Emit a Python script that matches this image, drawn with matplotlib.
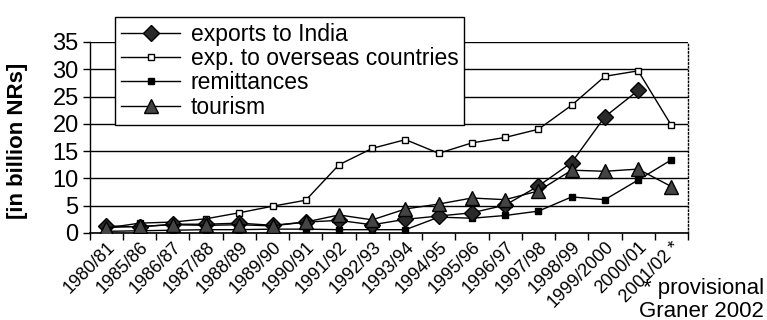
import numpy as np
import matplotlib
matplotlib.use('Agg')
import matplotlib.pyplot as plt
from matplotlib import font_manager

plt.rcParams['font.family'] = ['Liberation Sans', 'DejaVu Sans']

years = ['1980/81', '1985/86', '1986/87', '1987/88', '1988/89', '1989/90',
         '1990/91', '1991/92', '1992/93', '1993/94', '1994/95', '1995/96',
         '1996/97', '1997/98', '1998/99', '1999/2000', '2000/01', '2001/02 *']

exports_india = [1.3, 1.1, 1.6, 1.6, 1.8, 1.4, 2.0, 2.3, 1.5, 2.5, 3.1, 3.7,
                 5.1, 8.6, 12.9, 21.3, 26.1, np.nan]
exports_overseas = [0.9, 1.8, 2.0, 2.6, 3.7, 4.9, 6.0, 12.5, 15.5, 17.1, 14.6,
                    16.5, 17.5, 19.0, 23.4, 28.7, 29.7, 19.7]
remittances = [0.3, 0.4, 0.5, 0.6, 0.6, 0.7, 0.7, 0.6, 0.6, 0.6, 2.9, 2.7,
               3.2, 4.0, 6.6, 6.1, 9.7, 13.4]
tourism = [1.0, 1.2, 1.5, 1.4, 1.5, 1.3, 2.0, 3.3, 2.4, 4.4, 5.3, 6.4, 6.1,
           7.7, 11.5, 11.3, 11.7, 8.5]

# narrow face for the source note, if installed
names = {f.name for f in font_manager.fontManager.ttflist}
if 'Liberation Sans Narrow' in names:
    note_font, note_size = 'Liberation Sans Narrow', 18
else:
    note_font, note_size = 'Liberation Sans', 16

fig = plt.figure(figsize=(7.67, 3.2), dpi=100)
ax = fig.add_axes([0.117, 0.272, 0.78, 0.597])

x = np.arange(len(years))
ax.plot(x, exports_india, color='black', lw=1, marker='D', ms=8.5,
        mfc='#2a2a2a', mec='black', label='exports to India', zorder=4)
ax.plot(x, exports_overseas, color='black', lw=1, marker='s', ms=4,
        mfc='white', mec='black', mew=1, label='exp. to overseas countries', zorder=3)
ax.plot(x, remittances, color='black', lw=1, marker='s', ms=4,
        mfc='black', mec='black', label='remittances', zorder=3)
ax.plot(x, tourism, color='black', lw=1, marker='^', ms=10.5,
        mfc='#444444', mec='black', label='tourism', zorder=4)

ax.set_xlim(-0.5, len(years) - 0.5)
ax.set_ylim(0, 35)
ax.set_yticks(range(0, 36, 5))
ax.yaxis.grid(True, color='black', lw=1)
ax.set_axisbelow(True)

ax.set_xticks(x)
ax.set_xticklabels(years, rotation=45, ha='right', rotation_mode='anchor',
                   fontsize=13)
ax.set_xticks(np.arange(-0.5, len(years), 1), minor=True)
ax.tick_params(axis='x', which='major', length=0, pad=4)
ax.tick_params(axis='x', which='minor', length=5, direction='out', width=1)
ax.tick_params(axis='y', labelsize=17, length=5, width=1, pad=3)

ax.spines['top'].set_visible(False)
ax.spines['right'].set_linestyle(':')
ax.spines['right'].set_linewidth(1)
ax.spines['left'].set_linewidth(1)
ax.spines['bottom'].set_linewidth(1.2)

fig.text(0.023, 0.56, '[in billion NRs]', rotation=90, ha='center',
         va='center', fontsize=16, fontweight='bold')

leg = fig.legend(loc='upper left', bbox_to_anchor=(0.15, 0.947), fontsize=16.5,
                 frameon=True, fancybox=False, edgecolor='black',
                 framealpha=1, borderpad=0.25, labelspacing=0.06,
                 handlelength=2.6, handletextpad=0.45, borderaxespad=0)
leg.get_frame().set_linewidth(1)

fig.text(0.996, 0.098, '* provisional', ha='right', va='center',
         fontsize=note_size, family=note_font)
fig.text(0.996, 0.028, 'Graner 2002', ha='right', va='center',
         fontsize=note_size, family=note_font)

fig.savefig('out.png', dpi=100)
